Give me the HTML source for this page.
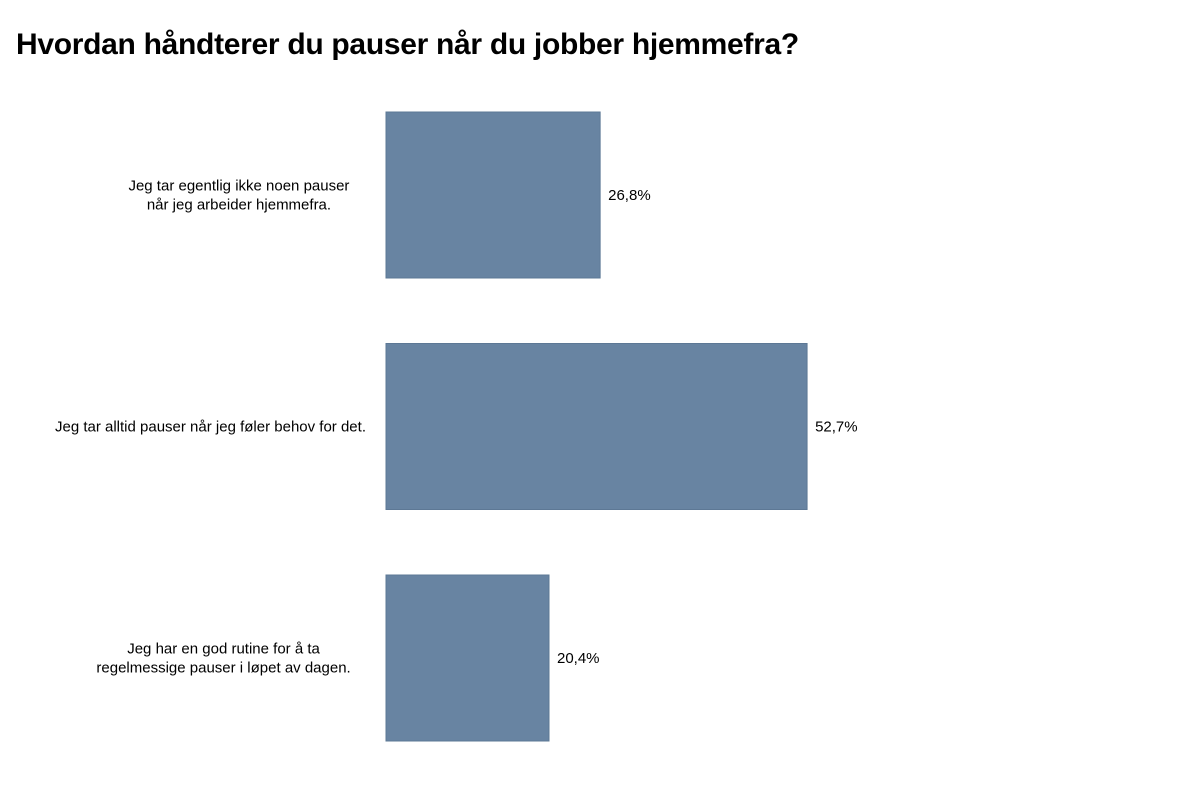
<!DOCTYPE html>
<html><head><meta charset="utf-8">
<style>
body{margin:0;background:#fff;width:1200px;height:801px;overflow:hidden;font-family:"Liberation Sans",sans-serif;}
#title{position:absolute;left:16px;top:28px;font-size:30px;font-weight:bold;color:#000;margin:0;letter-spacing:-0.3px;}
svg{position:absolute;left:0;top:0;}
</style></head>
<body>
<h1 id="title">Hvordan håndterer du pauser når du jobber hjemmefra?</h1>
<svg id="chart" width="1200" height="801"></svg>
<script>
const categories = [
  ["Jeg tar egentlig ikke noen pauser","når jeg arbeider hjemmefra."],
  ["Jeg tar alltid pauser når jeg føler behov for det."],
  ["Jeg har en god rutine for å ta","regelmessige pauser i løpet av dagen."]
];
const values = [26.8, 52.7, 20.4];
const valueLabels = ["26,8%","52,7%","20,4%"];

const x0 = 386, pxPerUnit = 7.99;
const bandTop = 112, bandStep = 231.5, barH = 166;
function xScale(v){ return x0 + v*pxPerUnit; }
function yScale(i){ return bandTop + i*bandStep; }

const svg = document.getElementById('chart');
const NS = 'http://www.w3.org/2000/svg';
values.forEach((v,i)=>{
  const y = yScale(i);
  const r = document.createElementNS(NS,'rect');
  r.setAttribute('x', x0); r.setAttribute('y', y);
  r.setAttribute('width', xScale(v)-x0); r.setAttribute('height', barH);
  r.setAttribute('fill', '#6884a2'); r.setAttribute('stroke', '#5d7895'); r.setAttribute('stroke-width','1');
  
  
  svg.appendChild(r);

  const t = document.createElementNS(NS,'text');
  t.setAttribute('x', xScale(v)+8); t.setAttribute('y', y+barH/2+5);
  t.setAttribute('font-size','15'); t.setAttribute('fill','#000');
  t.textContent = valueLabels[i];
  
  
  svg.appendChild(t);

  const lines = categories[i];
  const lbl = document.createElementNS(NS,'text');
  lbl.setAttribute('text-anchor','middle'); lbl.setAttribute('font-size','15'); lbl.setAttribute('fill','#000');
  
  
  const lh = 19;
  const startY = y + barH/2 + 5 - (lines.length-1)*lh/2;
  const maxLen = Math.max(...lines.map(s=>s.length));
  lines.forEach((s,j)=>{
    const ts = document.createElementNS(NS,'tspan');
    ts.setAttribute('x', lines.length>1 ? 366 - maxLen*3.85 : 187);
    if(lines.length===1){ts.setAttribute('x',366);lbl.setAttribute('text-anchor','end');}
    ts.setAttribute('y', startY + j*lh);
    ts.textContent = s;
    lbl.appendChild(ts);
  });
  svg.appendChild(lbl);
});
</script>
</body></html>
